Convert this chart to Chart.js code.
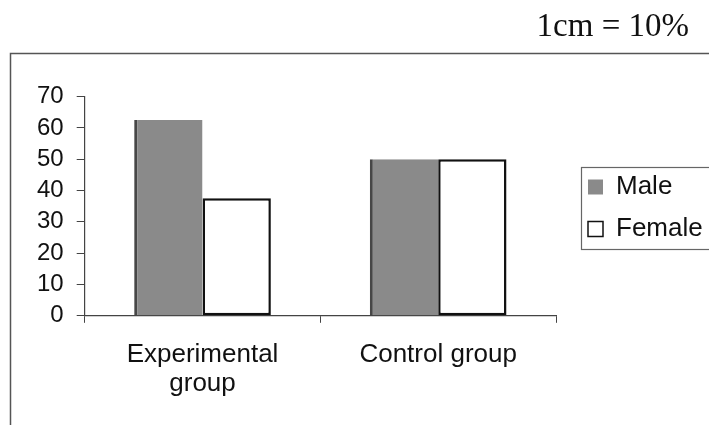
<!DOCTYPE html>
<html>
<head>
<meta charset="utf-8">
<script src="https://cdn.jsdelivr.net/npm/chart.js@4/dist/chart.umd.min.js"></script>
<style>
html,body{margin:0;padding:0;background:#fff;}
#wrap{width:709px;height:425px;position:relative;}
</style>
</head>
<body>
<div id="wrap"><canvas id="c" width="709" height="425"></canvas></div>
<script>
// ---- data ----
const categories = [['Experimental', 'group'], 'Control group'];
const seriesNames = ['Male', 'Female'];
const maleValues = [62.5, 50];
const femaleValues = [37.5, 50];
const yTickValues = [0, 10, 20, 30, 40, 50, 60, 70];
const titleText = '1cm = 10%';

// ---- decoration plugin: outer frame and legend frame ----
const framePlugin = {
  id: 'frames',
  afterLayout(chart) {
    const lg = chart.legend;
    if (lg) {
      const w = lg.width;
      lg.left = 572;
      lg.right = 572 + w;
    }
  },
  afterDraw(chart) {
    const ctx = chart.ctx;
    ctx.save();
    ctx.strokeStyle = '#555';
    ctx.lineWidth = 1.5;
    ctx.beginPath();
    ctx.moveTo(10.5, 430);
    ctx.lineTo(10.5, 53.5);
    ctx.lineTo(715, 53.5);
    ctx.stroke();
    const hb = chart.legend.legendHitBoxes;
    if (hb && hb.length) {
      const l = hb[0].left - 7;
      const t = hb[0].top - 7;
      const b = hb[hb.length - 1].top + hb[hb.length - 1].height + 7;
      ctx.strokeStyle = '#666';
      ctx.lineWidth = 1.2;
      ctx.strokeRect(Math.round(l) + 0.5, Math.round(t) + 0.5, 760 - l, b - t);
    }
    ctx.restore();
  }
};

new Chart(document.getElementById('c'), {
  type: 'bar',
  data: {
    labels: categories,
    datasets: [
      {
        label: seriesNames[0],
        data: maleValues,
        backgroundColor: '#8a8a8a',
        borderColor: '#474747',
        borderWidth: {left: 3, top: 0, right: 0, bottom: 0},
        borderSkipped: false
      },
      {
        label: seriesNames[1],
        data: femaleValues,
        backgroundColor: '#ffffff',
        borderColor: '#111111',
        borderWidth: 2.5,
        borderSkipped: false
      }
    ]
  },
  options: {
    responsive: false,
    animation: false,
    devicePixelRatio: 1,
    layout: {padding: {left: 24, right: 20, top: 0, bottom: 9}},
    datasets: {bar: {categoryPercentage: 0.58, barPercentage: 1.0}},
    plugins: {
      title: {
        display: true,
        text: titleText,
        align: 'end',
        color: '#111',
        font: {family: 'Liberation Serif', size: 33, weight: 'normal'},
        padding: {top: 8, bottom: 49}
      },
      legend: {
        display: true,
        position: 'right',
        align: 'center',
        maxWidth: 133,
        labels: {
          color: '#111',
          font: {family: 'Liberation Sans', size: 26},
          boxWidth: 15,
          boxHeight: 15,
          padding: 16,
          generateLabels(chart) {
            const items = Chart.defaults.plugins.legend.labels.generateLabels(chart);
            return items.map((it, i) => Object.assign(it, {lineWidth: i === 0 ? 0 : 1.5, strokeStyle: '#111'}));
          }
        }
      },
      tooltip: {enabled: false}
    },
    scales: {
      x: {
        offset: true,
        grid: {display: true, drawOnChartArea: false, drawTicks: true, tickLength: 7, color: '#444', offset: true},
        border: {display: true, color: '#444', width: 1.2},
        ticks: {
          color: '#111',
          font: {family: 'Liberation Sans', size: 26, lineHeight: 1.1},
          padding: 18,
          maxRotation: 0,
          autoSkip: false
        }
      },
      y: {
        min: 0,
        max: 70,
        afterBuildTicks(scale) {
          scale.ticks = yTickValues.map(v => ({value: v}));
        },
        grid: {display: true, drawOnChartArea: false, drawTicks: true, tickLength: 8, color: '#444'},
        border: {display: true, color: '#444', width: 1.2},
        ticks: {
          color: '#111',
          font: {family: 'Liberation Sans', size: 24},
          padding: 13,
          autoSkip: false
        }
      }
    }
  },
  plugins: [framePlugin]
});
</script>
</body>
</html>
